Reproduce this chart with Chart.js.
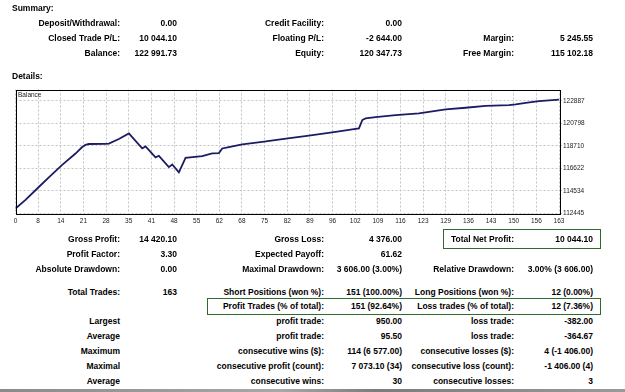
<!DOCTYPE html>
<html>
<head>
<meta charset="utf-8">
<script src="https://cdn.jsdelivr.net/npm/chart.js@4"></script>
<style>
  body { margin: 0; width: 625px; height: 392px; background: #fff; position: relative; overflow: hidden;
         font: bold 8.5px "Liberation Sans", Arial, sans-serif; color: #000; }
  .t { position: absolute; white-space: nowrap; line-height: 10px; height: 10px; }
  .box { position: absolute; border: 1.5px solid #2f6b2f; box-sizing: border-box; }
  #wrap { position: absolute; left: 0; top: 80px; width: 625px; height: 150px; }
  #cap { position: absolute; left: 18px; top: 91px; font: 6.5px "Liberation Sans", Arial, sans-serif; color: #222; }
  #edge { position: absolute; left: 0; top: 389px; width: 625px; height: 3px;
          background: linear-gradient(to right, #8a8a8a, #a8a8a8 45%, #7c7c7c 60%, #9a9a9a); }
</style>
</head>
<body>
<div id="wrap"><canvas id="chart" width="625" height="150"></canvas></div>
<div id="cap">Balance</div>
<div class="box" style="left:443px;top:229px;width:158px;height:20px"></div>
<div class="box" style="left:207px;top:298px;width:394px;height:17px"></div>
<div id="edge"></div>
<script>
// balance curve (trade number / balance)
const BAL_TRADE = [0, 3, 7, 10, 14, 18, 20, 21, 22, 27, 28, 31, 34, 38, 39, 42, 43, 46, 47, 49, 51,
  56, 59, 61, 62, 64, 68, 74, 80, 88, 96, 101, 103, 104, 105, 108, 114, 121, 129, 135, 141, 148,
  150, 153, 157, 160, 163];
const BAL_VALUE = [112900, 113700, 114900, 115800, 116950, 118000, 118600, 118800, 118880, 118900,
  118920, 119350, 119860, 118470, 118660, 117640, 117790, 116740, 116990, 116250, 117600,
  117760, 118010, 118040, 118470, 118590, 118840, 119080, 119330, 119650, 120010, 120230,
  120330, 121100, 121250, 121380, 121560, 121720, 122090, 122240, 122420, 122490,
  122560, 122700, 122850, 122930, 122992];

const X_LABELS = ['0', '8', '14', '21', '28', '35', '41', '48', '55', '62', '68', '75', '82', '89',
  '96', '102', '109', '116', '123', '129', '136', '143', '150', '156', '163'];
const Y_TICKS = [112445, 114534, 116622, 118710, 120798, 122887];

// report text: [text, x, y centre, align]
const TEXT = [
  ['Summary:', 12, 8, 'l'],
  ['Deposit/Withdrawal:', 120, 23], ['0.00', 177, 23], ['Credit Facility:', 324, 23], ['0.00', 402, 23],
  ['Closed Trade P/L:', 120, 38], ['10 044.10', 177, 38], ['Floating P/L:', 324, 38], ['-2 644.00', 402, 38],
  ['Margin:', 514, 38], ['5 245.55', 593, 38],
  ['Balance:', 120, 53], ['122 991.73', 177, 53], ['Equity:', 324, 53], ['120 347.73', 402, 53],
  ['Free Margin:', 514, 53], ['115 102.18', 593, 53],
  ['Details:', 12, 76, 'l'],
  ['Gross Profit:', 120, 239], ['14 420.10', 177, 239], ['Gross Loss:', 324, 239], ['4 376.00', 402, 239],
  ['Total Net Profit:', 514, 239], ['10 044.10', 593, 239],
  ['Profit Factor:', 120, 254], ['3.30', 177, 254], ['Expected Payoff:', 324, 254], ['61.62', 402, 254],
  ['Absolute Drawdown:', 120, 269], ['0.00', 177, 269], ['Maximal Drawdown:', 324, 269],
  ['3 606.00 (3.00%)', 402, 269], ['Relative Drawdown:', 514, 269], ['3.00% (3 606.00)', 593, 269],
  ['Total Trades:', 120, 292], ['163', 177, 292], ['Short Positions (won %):', 324, 292],
  ['151 (100.00%)', 402, 292], ['Long Positions (won %):', 514, 292], ['12 (0.00%)', 593, 292],
  ['Profit Trades (% of total):', 324, 306], ['151 (92.64%)', 402, 306],
  ['Loss trades (% of total):', 514, 306], ['12 (7.36%)', 593, 306],
  ['Largest', 120, 321], ['profit trade:', 324, 321], ['950.00', 402, 321], ['loss trade:', 514, 321], ['-382.00', 593, 321],
  ['Average', 120, 336], ['profit trade:', 324, 336], ['95.50', 402, 336], ['loss trade:', 514, 336], ['-364.67', 593, 336],
  ['Maximum', 120, 351], ['consecutive wins ($):', 324, 351], ['114 (6 577.00)', 402, 351],
  ['consecutive losses ($):', 514, 351], ['4 (-1 406.00)', 593, 351],
  ['Maximal', 120, 366], ['consecutive profit (count):', 324, 366], ['7 073.10 (34)', 402, 366],
  ['consecutive loss (count):', 514, 366], ['-1 406.00 (4)', 593, 366],
  ['Average', 120, 381], ['consecutive wins:', 324, 381], ['30', 402, 381],
  ['consecutive losses:', 514, 381], ['3', 593, 381]
];

TEXT.forEach(([s, x, y, a]) => {
  const d = document.createElement('div');
  d.className = 't';
  d.textContent = s;
  d.style.top = (y - 5) + 'px';
  if (a === 'l') d.style.left = x + 'px';
  else d.style.right = (625 - x) + 'px';
  document.body.appendChild(d);
});

const FONT = '"Liberation Sans", Arial, sans-serif';

const frame = {
  id: 'frame',
  afterDraw: (chart) => {
    const a = chart.chartArea, ctx = chart.ctx;
    ctx.save();
    ctx.strokeStyle = '#000';
    ctx.lineWidth = 1;
    ctx.strokeRect(Math.round(a.left) + 0.5, Math.round(a.top) + 0.5,
      Math.round(a.right - a.left), Math.round(a.bottom - a.top));
    ctx.restore();
  }
};

new Chart(document.getElementById('chart'), {
  type: 'line',
  data: {
    datasets: [{
      data: BAL_TRADE.map((t, i) => ({ x: t, y: BAL_VALUE[i] })),
      borderColor: '#1c1c64',
      borderWidth: 1.8,
      pointRadius: 0,
      tension: 0
    }]
  },
  options: {
    responsive: false,
    animation: false,
    devicePixelRatio: 1,
    layout: { padding: { left: 15.5, top: 9.5, right: 0, bottom: 0 } },
    plugins: { legend: { display: false }, tooltip: { enabled: false } },
    scales: {
      x: {
        type: 'linear',
        min: 0,
        max: 163,
        afterBuildTicks: s => { s.ticks = X_LABELS.map((l, i) => ({ value: i * 163 / 24 })); },
        afterFit: s => { s.height = 16.5; },
        ticks: {
          autoSkip: false, maxRotation: 0, padding: 3.5, color: '#222',
          font: { size: 6.5, family: FONT },
          callback: (v, i) => X_LABELS[i]
        },
        grid: { color: '#c4c4c4', drawTicks: false },
        border: { display: false, dash: [2, 2] }
      },
      y: {
        position: 'right',
        min: 112445,
        max: 123930,
        afterBuildTicks: s => { s.ticks = Y_TICKS.map(v => ({ value: v })); },
        afterFit: s => { s.width = 66; },
        ticks: {
          padding: 1, color: '#222',
          font: { size: 6.5, family: FONT },
          callback: v => String(v)
        },
        grid: { color: '#c4c4c4', tickLength: 3 },
        border: { display: false, dash: [2, 2] }
      }
    }
  },
  plugins: [frame]
});
</script>
</body>
</html>
